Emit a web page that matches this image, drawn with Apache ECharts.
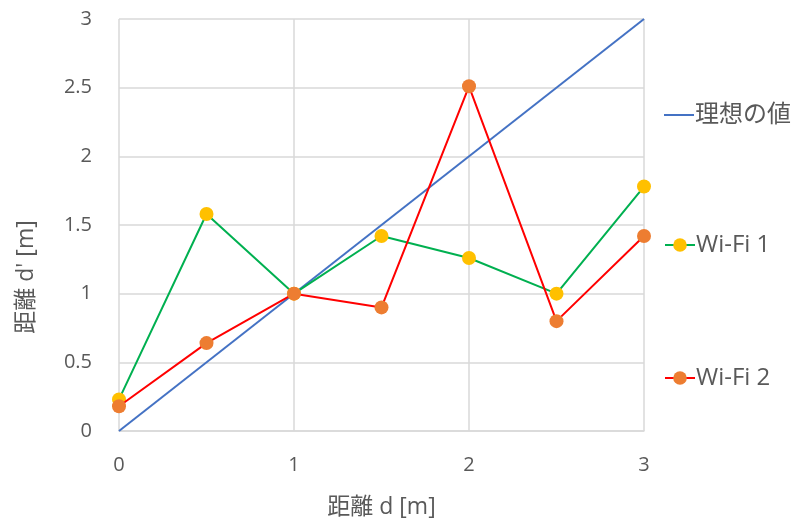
<!DOCTYPE html>
<html>
<head>
<meta charset="utf-8">
<script src="https://cdn.jsdelivr.net/npm/echarts@6/dist/echarts.min.js"></script>
<style>
  html, body { margin: 0; padding: 0; background: #fff; }
  #chart { width: 804px; height: 530px; }
</style>
</head>
<body>
<div id="chart"></div>
<script>
// Measured distance d' against true distance d
const distances = [0, 0.5, 1, 1.5, 2, 2.5, 3];
const idealX = [0, 3];
const idealY = [0, 3];
const wifi1 = [0.23, 1.58, 1.0, 1.42, 1.26, 1.0, 1.78];
const wifi2 = [0.18, 0.64, 1.0, 0.90, 2.51, 0.80, 1.42];
const seriesNames = ['理想の値', 'Wi-Fi 1', 'Wi-Fi 2'];
const xTitle = '距離 d [m]';
const yTitle = "距離 d' [m]";

const pairs = (xs, ys) => xs.map((x, i) => [x, ys[i]]);

const textColor = '#595959';
const gridColor = '#d9d9d9';
const fontFamily = '"Open Sans", "Noto Sans CJK JP", sans-serif';

const chart = echarts.init(document.getElementById('chart'));

function legendAt(name, top, plainLine) {
  return {
    data: [plainLine ? { name: name, icon: 'rect' } : name],
    left: 659,
    top: top,
    orient: 'vertical',
    itemWidth: 30,
    itemHeight: plainLine ? 2 : 17,
    itemGap: 4,
    textStyle: { color: textColor, fontSize: 24, fontFamily: fontFamily, padding: [0, 0, 0, -4] }
  };
}

chart.setOption({
  animation: false,
  backgroundColor: '#ffffff',
  textStyle: { fontFamily: fontFamily },
  grid: { left: 119, right: 160, top: 19, bottom: 99 },
  legend: [
    legendAt(seriesNames[0], 98, true),
    legendAt(seriesNames[1], 228, false),
    legendAt(seriesNames[2], 361, false)
  ],
  graphic: [{
    type: 'text',
    x: 26,
    y: 277,
    rotation: Math.PI / 2,
    style: {
      text: yTitle,
      fill: textColor,
      fontSize: 23,
      fontFamily: fontFamily,
      align: 'center',
      verticalAlign: 'middle'
    }
  }],
  xAxis: {
    type: 'value',
    min: 0, max: 3, interval: 1,
    name: xTitle,
    nameLocation: 'middle',
    nameGap: 65,
    nameTextStyle: { color: textColor, fontSize: 23, fontFamily: fontFamily },
    axisLine: { show: true, lineStyle: { color: gridColor, width: 1.5 } },
    axisTick: { show: false },
    axisLabel: { color: textColor, fontSize: 20, margin: 24 },
    splitLine: { show: true, lineStyle: { color: gridColor, width: 1.5 } }
  },
  yAxis: {
    type: 'value',
    min: 0, max: 3, interval: 0.5,
    axisLine: { show: false },
    axisTick: { show: false },
    axisLabel: { color: textColor, fontSize: 20, margin: 27 },
    splitLine: { show: true, lineStyle: { color: gridColor, width: 1.5 } }
  },
  series: [
    {
      name: seriesNames[0],
      type: 'line',
      data: pairs(idealX, idealY),
      symbol: 'none',
      lineStyle: { color: '#4472c4', width: 2 },
      itemStyle: { color: '#4472c4' },
      z: 1
    },
    {
      name: seriesNames[1],
      type: 'line',
      data: pairs(distances, wifi1),
      symbol: 'circle',
      symbolSize: 14,
      lineStyle: { color: '#00b050', width: 2 },
      itemStyle: { color: '#ffc000' },
      z: 2
    },
    {
      name: seriesNames[2],
      type: 'line',
      data: pairs(distances, wifi2),
      symbol: 'circle',
      symbolSize: 14,
      lineStyle: { color: '#ff0000', width: 2 },
      itemStyle: { color: '#ed7d31' },
      z: 3
    }
  ]
});
</script>
</body>
</html>
